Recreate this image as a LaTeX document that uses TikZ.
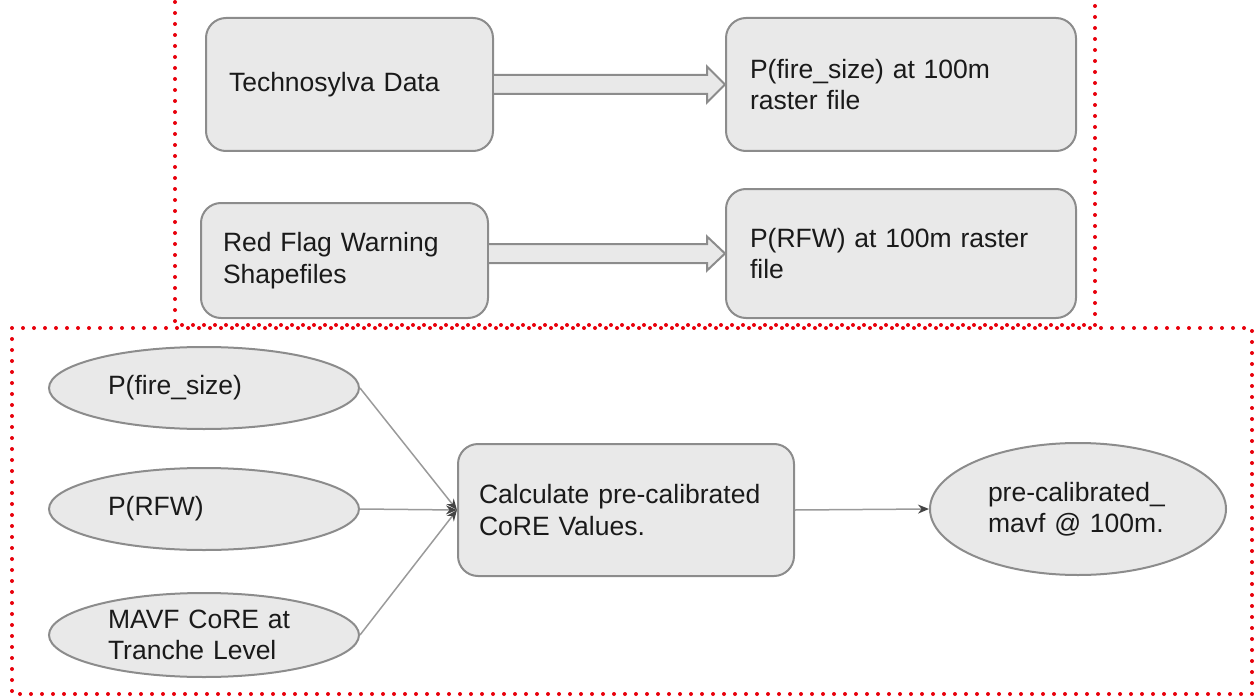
\documentclass[tikz,border=0pt]{standalone}
\usepackage{fontspec}
\setmainfont{Liberation Sans}
\usetikzlibrary{shapes.geometric,calc,arrows.meta}
\definecolor{boxfill}{HTML}{E9E9E9}
\definecolor{boxline}{HTML}{8C8C8C}
\definecolor{txt}{HTML}{1A1A1A}
\definecolor{framered}{HTML}{E8000B}
\definecolor{connline}{HTML}{9A9A9A}
\definecolor{tipcol}{HTML}{444444}
\begin{document}
\begin{tikzpicture}[x=1pt,y=-1pt,
  every node/.style={font=\fontsize{26.5}{31.5}\selectfont, text=txt},
  rbox/.style={draw=boxline, line width=2pt, fill=boxfill, rounded corners=20pt,
    anchor=north west, align=left, inner ysep=0pt},
  ell/.style={ellipse, draw=boxline, line width=2pt, fill=boxfill, align=left, inner sep=0pt},
  hollow/.style={draw=boxline, line width=2pt, fill=boxfill, line join=miter},
  conn/.style={draw=connline, line width=1.5pt, -{Stealth[length=11pt,width=9pt,color=tipcol]}},
  redframe/.style={draw=framered, line width=4pt, line cap=round, dash pattern=on 0pt off 11pt}
]
\useasboundingbox (0,0) rectangle (1258,698);

% frames
\draw[redframe] (175,-20) -- (175,325) -- (1095,325) -- (1095,-20);
\draw[redframe] (12,328) -- (1252,328) -- (1252,694) -- (12,694) -- cycle;

% top boxes
\node[rbox, minimum width=287pt, minimum height=133pt, text width=241pt, inner xsep=23pt] (tech) at (205,17) {Technosylva Data};
\node[rbox, minimum width=350pt, minimum height=133pt, text width=302pt, inner xsep=24pt] (pfs) at (725,17) {P(fire\_size) at 100m\\raster file};
\node[rbox, minimum width=287pt, minimum height=115pt, text width=243pt, inner xsep=22pt] (rfw) at (200,202) {Red Flag Warning\\Shapefiles};
\node[rbox, minimum width=350pt, minimum height=129pt, text width=302pt, inner xsep=24pt] (prfw) at (725,188) {P(RFW) at 100m raster\\file};

% hollow arrows
\draw[hollow] ($(tech.east)+(0,-9.5)$) -- ($(pfs.west)+(-18,-9.5)$) -- ($(pfs.west)+(-18,-18)$) -- (pfs.west)
  -- ($(pfs.west)+(-18,18)$) -- ($(pfs.west)+(-18,9.5)$) -- ($(tech.east)+(0,9.5)$);
\draw[hollow] ($(rfw.east|-prfw.west)+(0,-9.5)$) -- ($(prfw.west)+(-18,-9.5)$) -- ($(prfw.west)+(-18,-17)$) -- (prfw.west)
  -- ($(prfw.west)+(-18,17)$) -- ($(prfw.west)+(-18,9.5)$) -- ($(rfw.east|-prfw.west)+(0,9.5)$);

% bottom section
\node[ell, minimum width=310pt, minimum height=82pt, text width=192pt] (e1) at (204,388) {P(fire\_size)};
\node[ell, minimum width=310pt, minimum height=82pt, text width=192pt] (e2) at (204,509) {P(RFW)};
\node[ell, minimum width=310pt, minimum height=84pt, text width=192pt] (e3) at (204,635) {MAVF CoRE at\\Tranche Level};
\node[rbox, minimum width=336pt, minimum height=132pt, text width=294pt, inner xsep=21pt] (calc) at (457,443) {Calculate pre-calibrated\\CoRE Values.};
\node[ell, minimum width=296pt, minimum height=132pt, text width=180pt] (out) at (1078,509) {pre-calibrated\_\\mavf @ 100m.};

\draw[conn] (e1.east) -- (calc.west);
\draw[conn] (e2.east) -- (calc.west);
\draw[conn] (e3.east) -- (calc.west);
\draw[conn] (calc.east) -- (out.west);
\end{tikzpicture}
\end{document}
